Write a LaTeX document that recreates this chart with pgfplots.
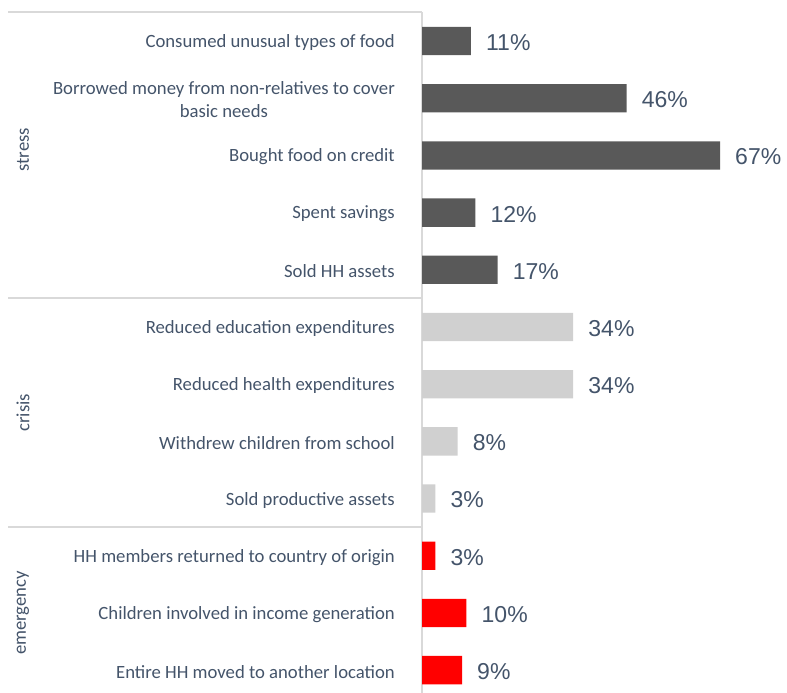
\documentclass[border=0pt]{standalone}
\usepackage{fontspec}
\setmainfont{Carlito}
\newfontfamily\valfont{Liberation Sans}
\usepackage{pgfplots}
\pgfplotsset{compat=1.18}
\definecolor{txt}{HTML}{44546A}
\definecolor{sepcol}{HTML}{D9D9D9}
\definecolor{stresscol}{HTML}{595959}
\definecolor{crisiscol}{HTML}{D0D0D0}
\definecolor{emergcol}{HTML}{FF0000}

\begin{document}
\begin{tikzpicture}[x=1bp,y=1bp]
\useasboundingbox (0,0) rectangle (787,693);
\begin{axis}[
    at={(422bp,0bp)}, anchor=south west,
    scale only axis, width=365bp, height=680.5bp,
    xmin=0, xmax=82.06,
    ymin=-0.5, ymax=11.4, y dir=reverse,
    axis x line=none, axis y line*=left,
    y axis line style={draw=sepcol, line width=2bp, -},
    major tick length=0pt,
    ytick={0,...,11},
    yticklabels={
        Consumed unusual types of food,
        {Borrowed money from non-relatives to cover\\basic needs},
        Bought food on credit,
        Spent savings,
        Sold HH assets,
        Reduced education expenditures,
        Reduced health expenditures,
        Withdrew children from school,
        Sold productive assets,
        HH members returned to country of origin,
        Children involved in income generation,
        Entire HH moved to another location},
    yticklabel style={font=\fontsize{18.7bp}{23.5bp}\selectfont, text=txt,
        align=center, inner sep=0pt, xshift=-27bp, yshift=-1.5bp},
    clip=false,
    nodes near coords, point meta=explicit symbolic,
    nodes near coords style={font=\valfont\fontsize{23bp}{26bp}\selectfont,
        text=txt, anchor=west, inner sep=0pt, xshift=15bp, yshift=-1.5bp},
]
% stress
\addplot[xbar, bar shift=0pt, bar width=28.3bp, fill=stresscol, draw=none] coordinates {
    (11,0)[11\%] (46,1)[46\%] (67,2)[67\%] (12,3)[12\%] (17,4)[17\%]
};
% crisis
\addplot[xbar, bar shift=0pt, bar width=28.3bp, fill=crisiscol, draw=none] coordinates {
    (34,5)[34\%] (34,6)[34\%] (8,7)[8\%] (3,8)[3\%]
};
% emergency
\addplot[xbar, bar shift=0pt, bar width=28.3bp, fill=emergcol, draw=none] coordinates {
    (3,9)[3\%] (10,10)[10\%] (9,11)[9\%]
};
\coordinate (s0) at (axis cs:0,-0.5);
\coordinate (s1) at (axis cs:0,4.5);
\coordinate (s2) at (axis cs:0,8.5);
\coordinate (g1) at (axis cs:0,1.9);
\coordinate (g2) at (axis cs:0,6.5);
\coordinate (g3) at (axis cs:0,10);
\end{axis}
\foreach \s in {s0,s1,s2}
    \draw[sepcol, line width=2bp] (\s) -- ([xshift=-414bp]\s);
\foreach \g/\t in {g1/stress, g2/crisis, g3/emergency}
    \node[rotate=90, text=txt, font=\fontsize{18.7bp}{22bp}\selectfont, inner sep=0pt]
        at ([xshift=-399bp]\g) {\t};
\end{tikzpicture}
\end{document}
